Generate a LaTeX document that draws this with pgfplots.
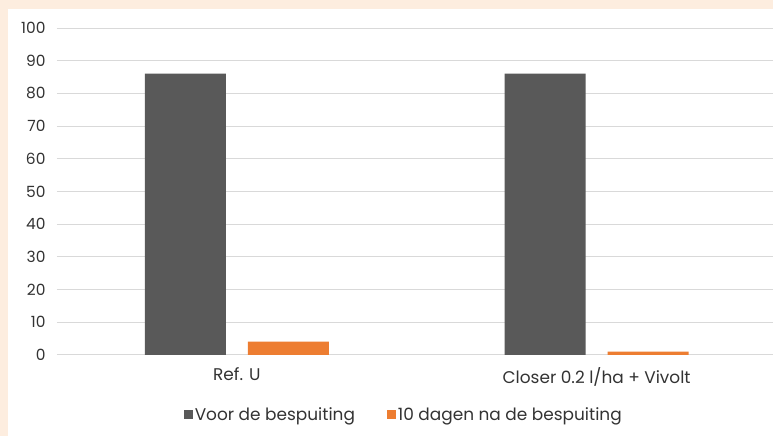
\documentclass[border=0pt]{standalone}
\usepackage{pgfplots}
\pgfplotsset{compat=1.18}
\usepackage{fontspec}
\setmainfont{Poppins}
\definecolor{peach}{HTML}{FDEDDF}
\definecolor{darkbar}{HTML}{595959}
\definecolor{orangebar}{HTML}{ED7D31}
\definecolor{gridc}{HTML}{D9D9D9}
\definecolor{txt}{HTML}{333333}
\begin{document}
\begin{tikzpicture}[x=1bp,y=1bp]
\fill[peach] (0,0) rectangle (773,436);
\fill[white] (8,0) rectangle (773,427);
\begin{axis}[
  at={(57bp,81bp)}, anchor=south west,
  scale only axis, width=716bp, height=327bp,
  xmin=-0.5, xmax=1.489, ymin=0, ymax=100,
  ybar=22bp, bar width=81bp,
  xtick={0,1}, xticklabels={Ref. U, Closer 0.2 l/ha + Vivolt},
  ytick={0,10,...,100},
  ymajorgrids, grid style={gridc, line width=0.9bp},
  axis line style={draw=none},
  major tick length=0pt,
  /pgf/number format/assume math mode=true,
  yticklabel style={font=\fontsize{15.5}{17}\selectfont, text=txt, xshift=-8bp},
  xticklabel style={font=\fontsize{17}{20}\selectfont, text=txt, yshift=-9bp},
  legend style={at={(0.4846,-0.183)}, anchor=center, draw=none, fill=none,
    legend columns=2, font=\fontsize{17}{20}\selectfont, text=txt,
    /tikz/every even column/.append style={column sep=30bp}},
]
\addplot[fill=darkbar, draw=none, legend image code/.code={\fill[darkbar] (0bp,-4bp) rectangle (9bp,5bp);}] coordinates {(0,86) (1,86)};
\addplot[fill=orangebar, draw=none, legend image code/.code={\fill[orangebar] (0bp,-4bp) rectangle (9bp,5bp);}] coordinates {(0,4) (1,1)};
\legend{Voor de bespuiting, 10 dagen na de bespuiting}
\end{axis}
\end{tikzpicture}
\end{document}
